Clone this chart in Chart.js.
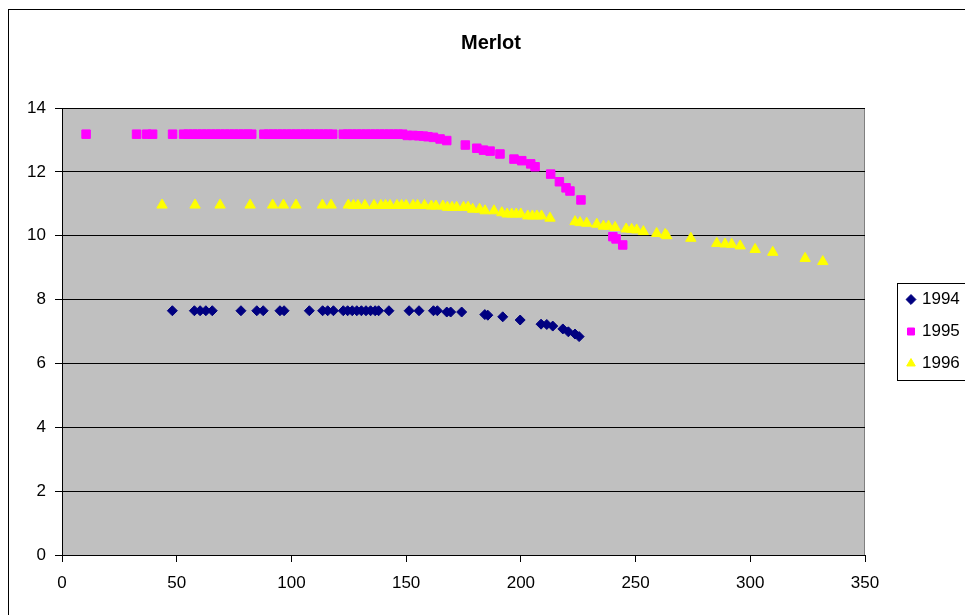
<!DOCTYPE html>
<html>
<head>
<meta charset="utf-8">
<script src="https://cdn.jsdelivr.net/npm/chart.js@4.4.1/dist/chart.umd.min.js"></script>
<style>
  body { margin: 0; background: #fff; overflow: hidden; }
  #wrap { width: 965px; height: 615px; }
</style>
</head>
<body>
<div id="wrap"><canvas id="merlotChart" width="965" height="615"></canvas></div>
<script>
// values
var x1994 = [48.1, 57.7, 60.2, 62.7, 65.5, 78.0, 84.9, 87.7, 95.0, 96.8, 107.8, 113.6, 115.8, 118.3,
  122.6, 124.5, 126.5, 128.5, 130.5, 132.5, 134.5, 136.5, 138.0, 142.5, 151.3, 155.6, 161.9, 163.6,
  167.7, 169.4, 174.2, 184.3, 185.6, 192.1, 199.7, 208.8, 211.3, 213.9, 218.3, 220.7, 223.6, 225.4];
var y1994 = [7.65, 7.65, 7.65, 7.65, 7.65, 7.65, 7.65, 7.65, 7.65, 7.65, 7.65, 7.65, 7.65, 7.65,
  7.65, 7.65, 7.65, 7.65, 7.65, 7.65, 7.65, 7.65, 7.65, 7.65, 7.65, 7.65, 7.65, 7.65,
  7.61, 7.61, 7.61, 7.53, 7.51, 7.46, 7.36, 7.23, 7.22, 7.17, 7.08, 6.99, 6.92, 6.84];

var x1995 = [10.5, 32.5, 36.9, 39.5, 48.2, 53, 55, 57, 59, 61, 63, 65, 67, 69, 71, 73, 75, 77, 79, 81, 82.7,
  88, 90, 92, 94, 96, 98, 100, 102, 104, 106, 108, 110, 112, 114, 116, 118,
  122.6, 124.5, 126.5, 128.5, 130.5, 132.5, 134.5, 136.5, 138.5, 140.5, 142.5, 144.5, 146.5, 148.5,
  150.5, 153, 155.5, 157.5, 159.5, 161.9, 164.8, 167.7, 175.8, 180.8, 183.7, 186.6, 190.9, 197.0,
  200.4, 204.3, 206.2, 213.0, 216.8, 219.7, 221.4, 226.2, 240.1, 241.5, 244.4];
var y1995 = [13.18, 13.18, 13.18, 13.18, 13.18, 13.18, 13.18, 13.18, 13.18, 13.18, 13.18, 13.18, 13.18, 13.18, 13.18, 13.18, 13.18, 13.18, 13.18, 13.18, 13.18,
  13.18, 13.18, 13.18, 13.18, 13.18, 13.18, 13.18, 13.18, 13.18, 13.18, 13.18, 13.18, 13.18, 13.18, 13.18, 13.18,
  13.18, 13.18, 13.18, 13.18, 13.18, 13.18, 13.18, 13.18, 13.18, 13.18, 13.18, 13.18, 13.18, 13.18,
  13.14, 13.14, 13.13, 13.12, 13.10, 13.08, 13.03, 12.98, 12.84, 12.74, 12.68, 12.65, 12.56, 12.40,
  12.35, 12.25, 12.16, 11.93, 11.69, 11.50, 11.40, 11.12, 9.97, 9.90, 9.71];

var x1996 = [43.6, 58.0, 68.9, 82.0, 91.8, 96.5, 102.0, 113.5, 117.3, 124.8, 127, 129, 132,
  136, 139, 141, 143, 146, 148, 150, 153, 155, 158, 161, 163, 166, 168, 170, 172, 175, 177,
  179, 182, 184.4, 188.3, 191.7, 194, 196, 198, 200, 203, 205, 207, 209, 212.7,
  223.6, 225.8, 228.7, 233.1, 236.0, 238.2, 241.1, 245.9, 248.3, 250.5, 253.4, 259.2, 262.9, 263.6,
  274.1, 285.4, 289.0, 291.9, 295.6, 302.1, 309.8, 323.9, 331.6];
var y1996 = [10.96, 10.96, 10.96, 10.96, 10.96, 10.96, 10.96, 10.96, 10.96, 10.96, 10.95, 10.95, 10.95,
  10.95, 10.95, 10.95, 10.95, 10.95, 10.95, 10.95, 10.95, 10.95, 10.95, 10.93, 10.93, 10.93, 10.89, 10.89, 10.89, 10.89, 10.89,
  10.83, 10.83, 10.78, 10.78, 10.72, 10.68, 10.68, 10.68, 10.68, 10.62, 10.62, 10.62, 10.62, 10.55,
  10.44, 10.41, 10.39, 10.36, 10.30, 10.30, 10.26, 10.21, 10.20, 10.18, 10.13, 10.07, 10.04, 10.00,
  9.92, 9.76, 9.74, 9.73, 9.68, 9.57, 9.48, 9.29, 9.19];

var seriesNames = ['1994', '1995', '1996'];
var xTickValues = [0, 50, 100, 150, 200, 250, 300, 350];
var yTickValues = [0, 2, 4, 6, 8, 10, 12, 14];

function pairs(xs, ys) {
  return xs.map(function(x, i) { return { x: x, y: ys[i] }; });
}

// grey plot area, outer frame and legend box like the Excel chart
var backdrop = {
  id: 'backdrop',
  beforeDraw: function(chart) {
    var c = chart.ctx, a = chart.chartArea;
    c.save();
    c.fillStyle = '#fff';
    c.fillRect(0, 0, chart.width, chart.height);
    c.strokeStyle = '#000';
    c.lineWidth = 1;
    c.strokeRect(8.5, 9.5, 1000, 1000);
    c.fillStyle = '#c0c0c0';
    c.fillRect(a.left, a.top, a.right - a.left, a.bottom - a.top);
    c.strokeStyle = '#808080';
    c.strokeRect(a.left + 0.5, a.top + 0.5, a.right - a.left - 1, a.bottom - a.top);
    c.strokeStyle = '#000';
    c.strokeRect(897.5, 283.5, 100, 97);
    c.restore();
  }
};

Chart.defaults.font.family = '"Liberation Sans", Arial, sans-serif';
Chart.defaults.color = '#000';

var ctx = document.getElementById('merlotChart').getContext('2d');
var merlotChart = new Chart(ctx, {
  type: 'scatter',
  data: {
    datasets: [{
      label: seriesNames[0],
      data: pairs(x1994, y1994),
      pointStyle: 'rectRot',
      pointRadius: 5,
      backgroundColor: '#000080',
      borderColor: '#000080',
      borderWidth: 1
    }, {
      label: seriesNames[1],
      data: pairs(x1995, y1995),
      pointStyle: 'rect',
      pointRadius: 6,
      backgroundColor: '#ff00ff',
      borderColor: '#ff00ff',
      borderWidth: 1
    }, {
      label: seriesNames[2],
      data: pairs(x1996, y1996),
      pointStyle: 'triangle',
      pointRadius: 6,
      backgroundColor: '#ffff00',
      borderColor: '#ffff00',
      borderWidth: 1
    }]
  },
  options: {
    responsive: false,
    animation: false,
    layout: { padding: { left: 17, right: 0, top: 0, bottom: 0 } },
    scales: {
      x: {
        type: 'linear',
        position: 'bottom',
        min: 0,
        max: 350,
        afterBuildTicks: function(s) { s.ticks = xTickValues.map(function(v) { return { value: v }; }); },
        afterFit: function(s) { s.height = 60; },
        grid: { drawOnChartArea: false, drawTicks: true, tickLength: 7, color: '#000' },
        border: { color: '#000', width: 1 },
        ticks: { font: { size: 17 }, padding: 11, maxRotation: 0 }
      },
      y: {
        type: 'linear',
        position: 'left',
        min: 0,
        max: 14,
        afterBuildTicks: function(s) { s.ticks = yTickValues.map(function(v) { return { value: v }; }); },
        afterFit: function(s) { s.width = 45; },
        grid: { color: '#000', tickLength: 7 },
        border: { color: '#000', width: 1 },
        ticks: { font: { size: 17 }, padding: 9 }
      },
      gap: {
        // empty axis, only keeps the legend away from the plot
        type: 'linear',
        position: 'right',
        afterFit: function(s) { s.width = 28.5; },
        grid: { display: false },
        ticks: { display: false },
        border: { display: false }
      }
    },
    plugins: {
      title: {
        display: true,
        text: 'Merlot',
        font: { size: 20, weight: 'bold' },
        padding: { top: 31, bottom: 53 }
      },
      legend: {
        position: 'right',
        align: 'center',
        fullSize: false,
        maxWidth: 71.5,
        labels: {
          usePointStyle: true,
          boxWidth: 5,
          boxHeight: 7,
          padding: 15,
          font: { size: 17 }
        }
      },
      tooltip: { enabled: false }
    }
  },
  plugins: [backdrop]
});
</script>
</body>
</html>
